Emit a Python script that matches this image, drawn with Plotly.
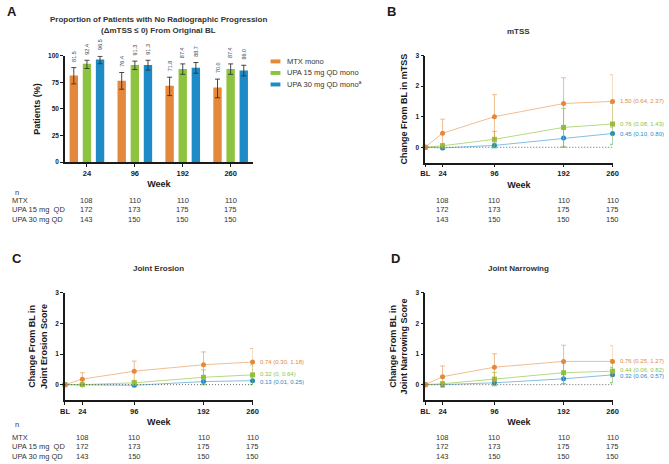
import plotly.graph_objects as go

W, H = 669, 464
def PX(x): return x / W
def PY(y): return 1 - y / H

# ---------------- data ----------------
series_names = ["MTX mono", "UPA 15 mg QD mono", "UPA 30 mg QD mono<sup>a</sup>"]
row_labels = ["MTX", "UPA 15 mg  QD", "UPA 30 mg QD"]
colors = ["#E4883B", "#8DC43F", "#1F8BC6"]
fades = ["rgba(228,136,59,0.55)", "rgba(141,196,63,0.65)", "rgba(31,139,198,0.55)"]

bar_weeks = ["24", "96", "192", "260"]
pct_mtx = [81.5, 76.4, 71.8, 70.0]
pct_upa15 = [92.4, 91.3, 87.4, 87.4]
pct_upa30 = [96.5, 91.3, 88.7, 86.0]
pct_lo_mtx = [73.5, 68.5, 62.5, 60.5]
pct_hi_mtx = [88.8, 84.2, 79.8, 78.0]
pct_lo_upa15 = [88.0, 87.0, 82.5, 82.5]
pct_hi_upa15 = [95.7, 94.9, 92.3, 92.3]
pct_lo_upa30 = [92.5, 86.5, 83.5, 81.0]
pct_hi_upa30 = [99.4, 95.7, 93.6, 91.0]

n_mtx = [108, 110, 110, 110]
n_upa15 = [172, 173, 175, 175]
n_upa30 = [143, 150, 150, 150]

line_weeks = [0, 24, 96, 192, 260]
line_week_labels = ["BL", "24", "96", "192", "260"]
count_weeks = [24, 96, 192, 260]

# mTSS (panel B)
mtss_mtx = [0, 0.46, 1.00, 1.43, 1.50]
mtss_mtx_lo = [0, 0.00, 0.28, 0.59, 0.64]
mtss_mtx_hi = [0, 0.92, 1.72, 2.27, 2.37]
mtss_u15 = [0, 0.05, 0.26, 0.65, 0.76]
mtss_u15_lo = [0, -0.02, 0.00, 0.03, 0.08]
mtss_u15_hi = [0, 0.12, 0.52, 1.27, 1.43]
mtss_u30 = [0, -0.02, 0.06, 0.30, 0.45]
mtss_u30_lo = [0, -0.07, -0.02, 0.00, 0.10]
mtss_u30_hi = [0, 0.03, 0.14, 0.60, 0.80]
mtss_labels = ["1.50 (0.64, 2.37)", "0.76 (0.08, 1.43)", "0.45 (0.10, 0.80)"]

# Joint erosion (panel C)
je_mtx = [0, 0.18, 0.44, 0.65, 0.74]
je_mtx_lo = [0, -0.03, 0.11, 0.23, 0.30]
je_mtx_hi = [0, 0.39, 0.77, 1.07, 1.18]
je_u15 = [0, 0.00, 0.06, 0.24, 0.32]
je_u15_lo = [0, -0.03, -0.02, 0.00, 0.00]
je_u15_hi = [0, 0.03, 0.14, 0.48, 0.64]
je_u30 = [0, 0.00, -0.02, 0.10, 0.13]
je_u30_lo = [0, -0.02, -0.06, 0.00, 0.01]
je_u30_hi = [0, 0.02, 0.02, 0.20, 0.25]
je_labels = ["0.74 (0.30, 1.18)", "0.32 (0, 0.64)", "0.13 (0.01, 0.25)"]

# Joint narrowing (panel D)
jn_mtx = [0, 0.26, 0.57, 0.76, 0.76]
jn_mtx_lo = [0, -0.09, 0.13, 0.23, 0.25]
jn_mtx_hi = [0, 0.61, 1.01, 1.29, 1.27]
jn_u15 = [0, 0.03, 0.18, 0.39, 0.44]
jn_u15_lo = [0, -0.02, -0.04, 0.03, 0.06]
jn_u15_hi = [0, 0.08, 0.40, 0.75, 0.82]
jn_u30 = [0, 0.00, 0.06, 0.19, 0.32]
jn_u30_lo = [0, -0.03, -0.02, 0.03, 0.06]
jn_u30_hi = [0, 0.03, 0.14, 0.35, 0.57]
jn_labels = ["0.76 (0.25, 1.27)", "0.44 (0.06, 0.82)", "0.32 (0.06, 0.57)"]

FONT = "Arial, Liberation Sans, sans-serif"
AX = "#1a1a1a"
TXT = "#333333"

fig = go.Figure()
annotations = []
shapes = []

# ---------------- Panel A: bars ----------------
offsets = [-0.274, 0.0, 0.274]
bar_vals = [pct_mtx, pct_upa15, pct_upa30]
bar_lo = [pct_lo_mtx, pct_lo_upa15, pct_lo_upa30]
bar_hi = [pct_hi_mtx, pct_hi_upa15, pct_hi_upa30]
for k in range(3):
    xs = [i + offsets[k] for i in range(len(bar_weeks))]
    fig.add_trace(go.Bar(
        x=xs, y=bar_vals[k], width=0.175, marker=dict(color=colors[k], line=dict(width=0)),
        error_y=dict(type="data", symmetric=False,
                     array=[h - v for h, v in zip(bar_hi[k], bar_vals[k])],
                     arrayminus=[v - l for v, l in zip(bar_vals[k], bar_lo[k])],
                     color="#333333", thickness=0.9, width=2.5),
        showlegend=False, xaxis="x", yaxis="y"))
    for x, v, h in zip(xs, bar_vals[k], bar_hi[k]):
        annotations.append(dict(x=x, y=h, xref="x", yref="y", text=f"{v:.1f}",
                                textangle=-90, showarrow=False, yanchor="bottom",
                                xanchor="center", yshift=4,
                                font=dict(size=5.5, color="#444444", family=FONT)))

# manual legend for panel A
leg_y = [58.3, 70.0, 81.7]
for k in range(3):
    shapes.append(dict(type="rect", xref="paper", yref="paper",
                       x0=PX(270), x1=PX(280), y0=PY(leg_y[k] + 2), y1=PY(leg_y[k] - 2),
                       fillcolor=colors[k], line=dict(width=0)))
    annotations.append(dict(x=PX(285), y=PY(leg_y[k]), xref="paper", yref="paper",
                            text=series_names[k], showarrow=False, xanchor="left",
                            yanchor="middle", font=dict(size=7.5, color=TXT, family=FONT)))

# ---------------- Line panels ----------------
panels = [
    ("x2", "y2", [mtss_mtx, mtss_u15, mtss_u30], [mtss_mtx_lo, mtss_u15_lo, mtss_u30_lo],
     [mtss_mtx_hi, mtss_u15_hi, mtss_u30_hi], mtss_labels, [0, 0, 0]),
    ("x3", "y3", [je_mtx, je_u15, je_u30], [je_mtx_lo, je_u15_lo, je_u30_lo],
     [je_mtx_hi, je_u15_hi, je_u30_hi], je_labels, [0, 1, -1]),
    ("x4", "y4", [jn_mtx, jn_u15, jn_u30], [jn_mtx_lo, jn_u15_lo, jn_u30_lo],
     [jn_mtx_hi, jn_u15_hi, jn_u30_hi], jn_labels, [0, 1.5, -1.5]),
]
symbols = ["circle", "square", "circle"]
for xa, ya, means, los, his, labels, shifts in panels:
    shapes.append(dict(type="line", xref=xa, yref=ya, x0=line_weeks[0], x1=line_weeks[-1],
                       y0=0, y1=0, line=dict(color="#666666", width=1, dash="1px,2px")))
    for k in [2, 1, 0]:
        m, lo, hi = means[k], los[k], his[k]
        fig.add_trace(go.Scatter(
            x=line_weeks, y=m, mode="lines+markers", xaxis=xa, yaxis=ya,
            line=dict(color=fades[k], width=1),
            marker=dict(color=colors[k], size=5, symbol=symbols[k], line=dict(width=0)),
            error_y=dict(type="data", symmetric=False,
                         array=[h - v for h, v in zip(hi, m)],
                         arrayminus=[v - l for v, l in zip(m, lo)],
                         color=fades[k], thickness=1, width=2.5),
            cliponaxis=False, showlegend=False))
        annotations.append(dict(x=line_weeks[-1], y=m[-1], xref=xa, yref=ya, text=labels[k],
                                showarrow=False, xanchor="left", yanchor="middle", xshift=5,
                                yshift=shifts[k],
                                font=dict(size=6, color=colors[k], family=FONT)))

# ---------------- axes ----------------
tick_x = dict(size=7.5, color=AX, family=FONT, weight="bold")
tick_y = dict(size=6.5, color=AX, family=FONT, weight="bold")
title_font = dict(size=9, color=AX, family=FONT, weight="bold")

def xax(domain, rng, tickvals, ticktext):
    return dict(domain=[PX(domain[0]), PX(domain[1])], range=rng, showline=True,
                linecolor=AX, linewidth=1.5, ticks="outside", ticklen=3, tickwidth=1,
                tickcolor=AX, tickvals=tickvals, ticktext=ticktext, tickfont=tick_x,
                showgrid=False, zeroline=False, fixedrange=True,
                title=dict(text="Week", font=title_font, standoff=4))

def yax(domain, rng, tickvals, anchor, title):
    return dict(domain=[PY(domain[1]), PY(domain[0])], range=rng, showline=True,
                linecolor=AX, linewidth=1.5, ticks="outside", ticklen=3, tickwidth=1,
                tickcolor=AX, tickvals=tickvals, tickfont=tick_y, showgrid=False,
                zeroline=False, anchor=anchor, fixedrange=True,
                title=dict(text=title, font=title_font, standoff=6))

layout_axes = dict(
    xaxis=xax((61, 252), [-0.458, 3.464], list(range(len(bar_weeks))), bar_weeks) | dict(anchor="y"),
    yaxis=yax((52.5, 160.5), [0, 100], [0, 25, 50, 75, 100], "x", "Patients (%)"),
    xaxis2=xax((427.3, 617.7), [0, 260], line_weeks, line_week_labels) | dict(anchor="y2"),
    yaxis2=yax((52.3, 161), [-0.5, 3], [0, 1, 2, 3], "x2", "Change From BL in mTSS"),
    xaxis3=xax((61, 251.7), [0, 260], line_weeks, line_week_labels) | dict(anchor="y3"),
    yaxis3=yax((293.3, 402), [-0.5, 3], [0, 1, 2, 3], "x3",
               "Change From BL in<br>Joint Erosion Score"),
    xaxis4=xax((427.3, 617.7), [0, 260], line_weeks, line_week_labels) | dict(anchor="y4"),
    yaxis4=yax((293.3, 402), [-0.5, 3], [0, 1, 2, 3], "x4",
               "Change From BL in<br>Joint Narrowing Score"),
)

# ---------------- titles / letters ----------------
def ptext(x, y, text, size, bold=True, anchor="center", color=AX):
    annotations.append(dict(x=PX(x), y=PY(y), xref="paper", yref="paper",
                            text=f"<b>{text}</b>" if bold else text, showarrow=False,
                            xanchor=anchor, yanchor="middle",
                            font=dict(size=size, color=color, family=FONT)))

ptext(7, 7.5, "A", 13, anchor="center")
ptext(392.5, 7.5, "B", 13, anchor="center")
ptext(12.5, 258, "C", 13, anchor="center")
ptext(397, 258, "D", 13, anchor="center")
ptext(156, 16, "Proportion of Patients with No Radiographic Progression", 8, color=TXT)
ptext(156, 26.7, "(ΔmTSS ≤ 0) From Original BL", 8, color=TXT)
ptext(522.5, 28.3, "mTSS", 8, color=TXT)
ptext(156.3, 268.3, "Joint Erosion", 8, color=TXT)
ptext(522.5, 268.3, "Joint Narrowing", 8, color=TXT)

# ---------------- n tables ----------------
counts = [n_mtx, n_upa15, n_upa30]
def table(xref, xs, rows_y, n_y, show_labels):
    if show_labels:
        ptext(8, n_y, "n", 7.5, bold=False, anchor="left", color=TXT)
        for r in range(3):
            ptext(5, rows_y[r], row_labels[r], 7.5, bold=False, anchor="left", color=TXT)
    for r in range(3):
        for x, v in zip(xs, counts[r]):
            annotations.append(dict(x=x, y=PY(rows_y[r]), xref=xref, yref="paper",
                                    text=str(v), showarrow=False, xanchor="center",
                                    yanchor="middle",
                                    font=dict(size=7.5, color=TXT, family=FONT)))

table("x", list(range(len(bar_weeks))), [199.3, 209, 218.3], 191.7, True)
table("x2", count_weeks, [199.3, 209, 218.3], 191.7, False)
table("x3", count_weeks, [440, 449.3, 459], 426.7, True)
table("x4", count_weeks, [440, 449.3, 459], 426.7, False)

fig.update_layout(
    width=W, height=H, margin=dict(l=0, r=0, t=0, b=0),
    paper_bgcolor="white", plot_bgcolor="white",
    font=dict(family=FONT, color=AX),
    showlegend=False, barmode="overlay",
    annotations=annotations, shapes=shapes,
    **layout_axes,
)

fig.write_html("out.html", config={"displayModeBar": False},
               post_script="document.body.style.margin='0';document.body.style.overflow='hidden';")
